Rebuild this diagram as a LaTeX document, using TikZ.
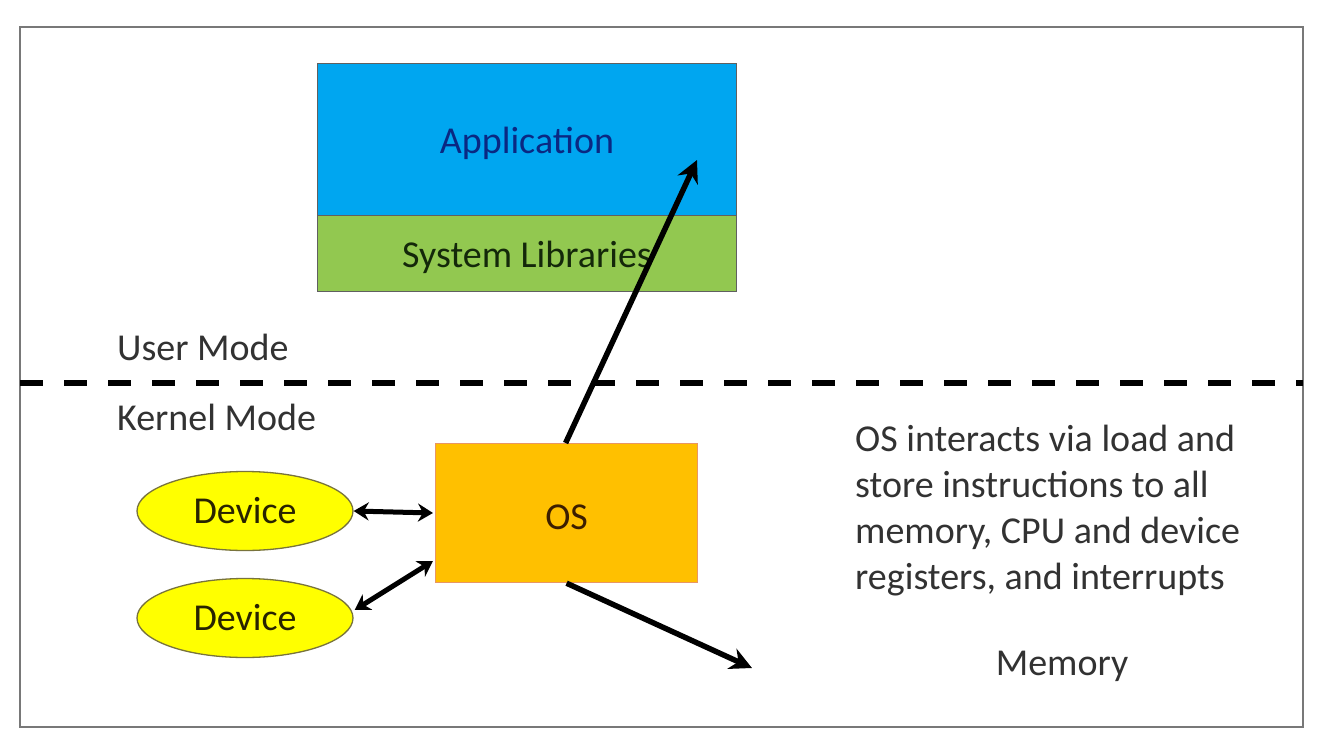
\documentclass[tikz,border=0pt]{standalone}
\usepackage{fontspec}
\setmainfont{Carlito}
\usetikzlibrary{shapes.geometric,arrows.meta,calc}
\definecolor{appblue}{RGB}{0,166,240}
\definecolor{libgreen}{RGB}{146,200,80}
\definecolor{osorange}{RGB}{255,192,0}
\definecolor{devyellow}{RGB}{255,255,0}
\definecolor{devedge}{RGB}{120,115,60}
\definecolor{osedge}{RGB}{232,150,100}
\definecolor{txt}{RGB}{50,50,50}
\definecolor{frame}{RGB}{120,120,120}
\tikzset{
  layer/.style={draw=frame!80!black, line width=1pt, minimum width=419pt, inner sep=0pt, font=\fontsize{38}{46}\selectfont, text height=28pt, text depth=0pt},
  dev/.style={ellipse, draw=devedge, line width=1.3pt, fill=devyellow, minimum width=216pt, minimum height=79pt, inner sep=0pt, font=\fontsize{38}{46}\selectfont, text={rgb,255:red,40;green,35;blue,0}},
  lbl/.style={font=\fontsize{38}{46}\selectfont, text=txt, inner sep=0pt},
  conn/.style={line width=5.5pt, black, -{Stealth[length=22pt,width=22pt]}},
  biconn/.style={line width=5pt, black, {Stealth[length=15pt,width=18pt]}-{Stealth[length=15pt,width=18pt]}},
}
\begin{document}
\begin{tikzpicture}[x=1pt,y=-1pt]
\useasboundingbox (0,0) rectangle (1320,744);
\fill[white] (0,0) rectangle (1320,744);
\draw[frame, line width=2pt] (20,27) rectangle (1303,727);
% layers
\node[layer, fill=appblue, minimum height=152pt, anchor=north west, text={rgb,255:red,10;green,40;blue,130}] (app) at (317,63) {Application};
\node[layer, fill=libgreen, minimum height=76pt, anchor=north west, text={rgb,255:red,20;green,40;blue,10}] (lib) at (317,215) {System Libraries};
% dashed separator
\coordinate (dl) at (20,383);
\coordinate (dr) at (1303,383);
\draw[line width=5.5pt, dash pattern=on 23pt off 21pt] (dl) -- (dr);
\node[lbl, anchor=west] (user) at (117,347) {User Mode};
\node[lbl, anchor=west] (kernel) at (117,417) {Kernel Mode};
% OS
\node[draw=osedge, line width=1.2pt, fill=osorange, minimum width=262pt, minimum height=139pt, inner sep=0pt, anchor=north west, font=\fontsize{38}{46}\selectfont, text height=32pt, text depth=0pt, text={rgb,255:red,60;green,30;blue,0}] (os) at (435,443) {OS};
% devices
\node[dev] (dev1) at (245,511) {Device};
\node[dev] (dev2) at (245,618) {Device};
% text
\node[lbl, anchor=north west, align=left] (note) at (855,425) {OS interacts via load and\\store instructions to all\\memory, CPU and device\\registers, and interrupts};
\node[lbl] (mem) at (1062,666) {Memory};
% connectors
\coordinate (apptip) at (697,160);
\coordinate (memtip) at (752,668);
\draw[conn] (os.north) ++(-1,0) -- (apptip);
\draw[conn] (os.south) -- (memtip);
\draw[biconn] (dev1.east) -- ($(os.north west)+(-2,70)$);
\draw[biconn] ($(dev2.east)+(1,-8)$) -- ($(os.north west)+(-2,118)$);
\end{tikzpicture}
\end{document}
